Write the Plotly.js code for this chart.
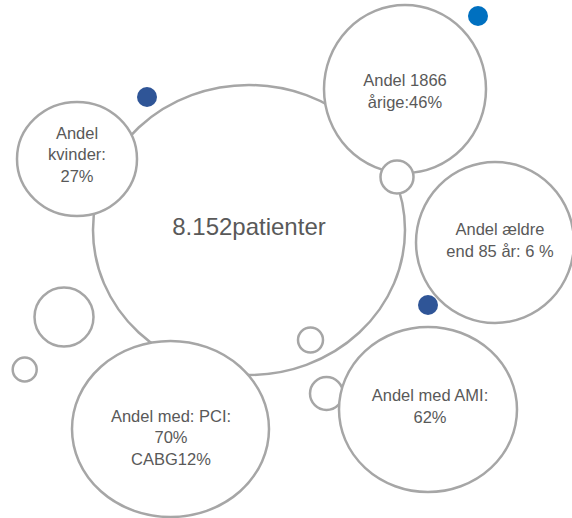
<!DOCTYPE html>
<html>
<head>
<meta charset="utf-8">
<script src="https://cdn.plot.ly/plotly-3.0.1.min.js"></script>
<style>html,body{margin:0;padding:0;background:#fff;}#chart{width:572px;height:518px;}</style>
</head>
<body>
<div id="chart"></div>
<script>
// Bubble labels and their centres
const labels = [
  "8.152patienter",
  "Andel 1866<br>årige:46%",
  "Andel<br>kvinder:<br>27%",
  "Andel ældre<br>end 85 år: 6 %",
  "Andel med AMI:<br>62%",
  "Andel med: PCI:<br>70%<br>CABG12%"
];
const labelX = [249, 405, 77, 500, 430, 171];
const labelY = [229, 93, 156, 242, 408, 439];
const labelSize = [24, 16.5, 16.5, 16.5, 16.5, 16.5];

// Circles (centre x, centre y, radius x, radius y), drawn in this order
const circleX  = [249, 405, 77, 397, 495, 310.5, 326.5, 428, 170.5, 64, 24.7];
const circleY  = [230, 89, 159, 177, 242.5, 340, 393.5, 409.5, 429, 317, 369.5];
const circleRX = [156, 81, 60, 16.5, 79, 12.5, 16.5, 89, 98.5, 29.5, 12];
const circleRY = [145, 84, 57, 16.5, 80.5, 12.5, 16.5, 82.5, 88, 29.5, 12];

// Filled dots
const dotX = [147, 478, 428];
const dotY = [97, 16, 305];
const dotColor = ["#2F5597", "#0070C0", "#2F5597"];

const shapes = circleX.map((cx, i) => ({
  type: "circle", xref: "x", yref: "y", layer: "below",
  x0: cx - circleRX[i], x1: cx + circleRX[i],
  y0: circleY[i] - circleRY[i], y1: circleY[i] + circleRY[i],
  fillcolor: "#ffffff",
  line: {color: "#A6A6A6", width: 2.5}
}));

const traces = [
  {
    type: "scatter", mode: "markers", x: dotX, y: dotY,
    marker: {size: 20, color: dotColor, line: {width: 0}},
    hoverinfo: "skip", showlegend: false
  },
  {
    type: "scatter", mode: "text", x: labelX, y: labelY, text: labels,
    textposition: "middle center",
    textfont: {family: "Liberation Sans, Arial, sans-serif", size: labelSize, color: "#595959"},
    hoverinfo: "skip", showlegend: false
  }
];

const layout = {
  width: 572, height: 518,
  margin: {l: 0, r: 0, t: 0, b: 0, pad: 0},
  paper_bgcolor: "#ffffff", plot_bgcolor: "#ffffff",
  xaxis: {range: [0, 572], visible: false, fixedrange: true},
  yaxis: {range: [518, 0], visible: false, fixedrange: true},
  shapes: shapes,
  showlegend: false
};

Plotly.newPlot("chart", traces, layout, {displayModeBar: false, staticPlot: true});
</script>
</body>
</html>
